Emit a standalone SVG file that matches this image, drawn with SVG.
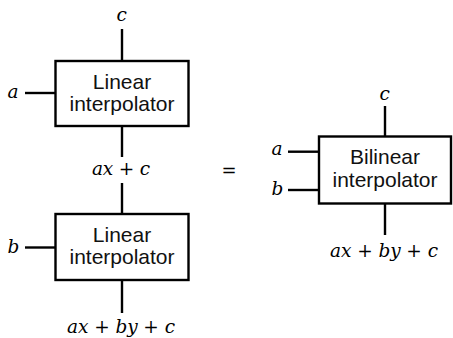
<svg xmlns="http://www.w3.org/2000/svg" width="453" height="338" viewBox="0 0 453 338">
<style>
.box{fill:#fff;stroke:#000;stroke-width:2.4}
.w{stroke:#000;stroke-width:2.4;fill:none}
.lbl{font-family:"Liberation Sans",Arial,sans-serif;font-size:21px;text-anchor:middle;fill:#111}
.m{font-family:"DejaVu Serif","Liberation Serif",serif;font-style:italic;font-size:18.5px;fill:#000}
.eq{font-family:"DejaVu Serif","Liberation Serif",serif;font-size:18px;fill:#000;text-anchor:middle}
</style>
<rect width="453" height="338" fill="#fff"/>
<g id="connectors">
<line class="w" x1="122" y1="29" x2="122" y2="61"/>
<line class="w" x1="25" y1="93" x2="55.5" y2="93"/>
<line class="w" x1="122" y1="126" x2="122" y2="157"/>
<line class="w" x1="122" y1="183" x2="122" y2="214"/>
<line class="w" x1="25" y1="247.5" x2="55.5" y2="247.5"/>
<line class="w" x1="122" y1="280" x2="122" y2="313"/>
<line class="w" x1="385" y1="106" x2="385" y2="136.5"/>
<line class="w" x1="288" y1="151.7" x2="319" y2="151.7"/>
<line class="w" x1="288" y1="190" x2="319" y2="190"/>
<line class="w" x1="385" y1="203.5" x2="385" y2="235"/>
</g>
<g id="labels">
<text class="m" x="116.5" y="21">c</text>
<text class="m" x="7.5" y="98">a</text>
<text class="m" x="92" y="175" textLength="58" lengthAdjust="spacing">ax + c</text>
<text class="m" x="7.5" y="253">b</text>
<text class="m" x="67" y="333" textLength="108" lengthAdjust="spacing">ax + by + c</text>
<text class="eq" x="229" y="177">=</text>
<text class="m" x="379.5" y="100">c</text>
<text class="m" x="271.5" y="155">a</text>
<text class="m" x="271.5" y="195">b</text>
<text class="m" x="330" y="257" textLength="108" lengthAdjust="spacing">ax + by + c</text>
</g>
<g id="linear1">
<rect class="box" x="55.5" y="61" width="133" height="65"/>
<text class="lbl" x="122" y="88.5">Linear</text>
<text class="lbl" x="122" y="110.5">interpolator</text>
</g>
<g id="linear2">
<rect class="box" x="55.5" y="214" width="133" height="66"/>
<text class="lbl" x="122" y="241.5">Linear</text>
<text class="lbl" x="122" y="264">interpolator</text>
</g>
<g id="bilinear">
<rect class="box" x="319" y="136.5" width="132" height="67"/>
<text class="lbl" x="385" y="163.5">Bilinear</text>
<text class="lbl" x="385" y="187">interpolator</text>
</g>
</svg>
